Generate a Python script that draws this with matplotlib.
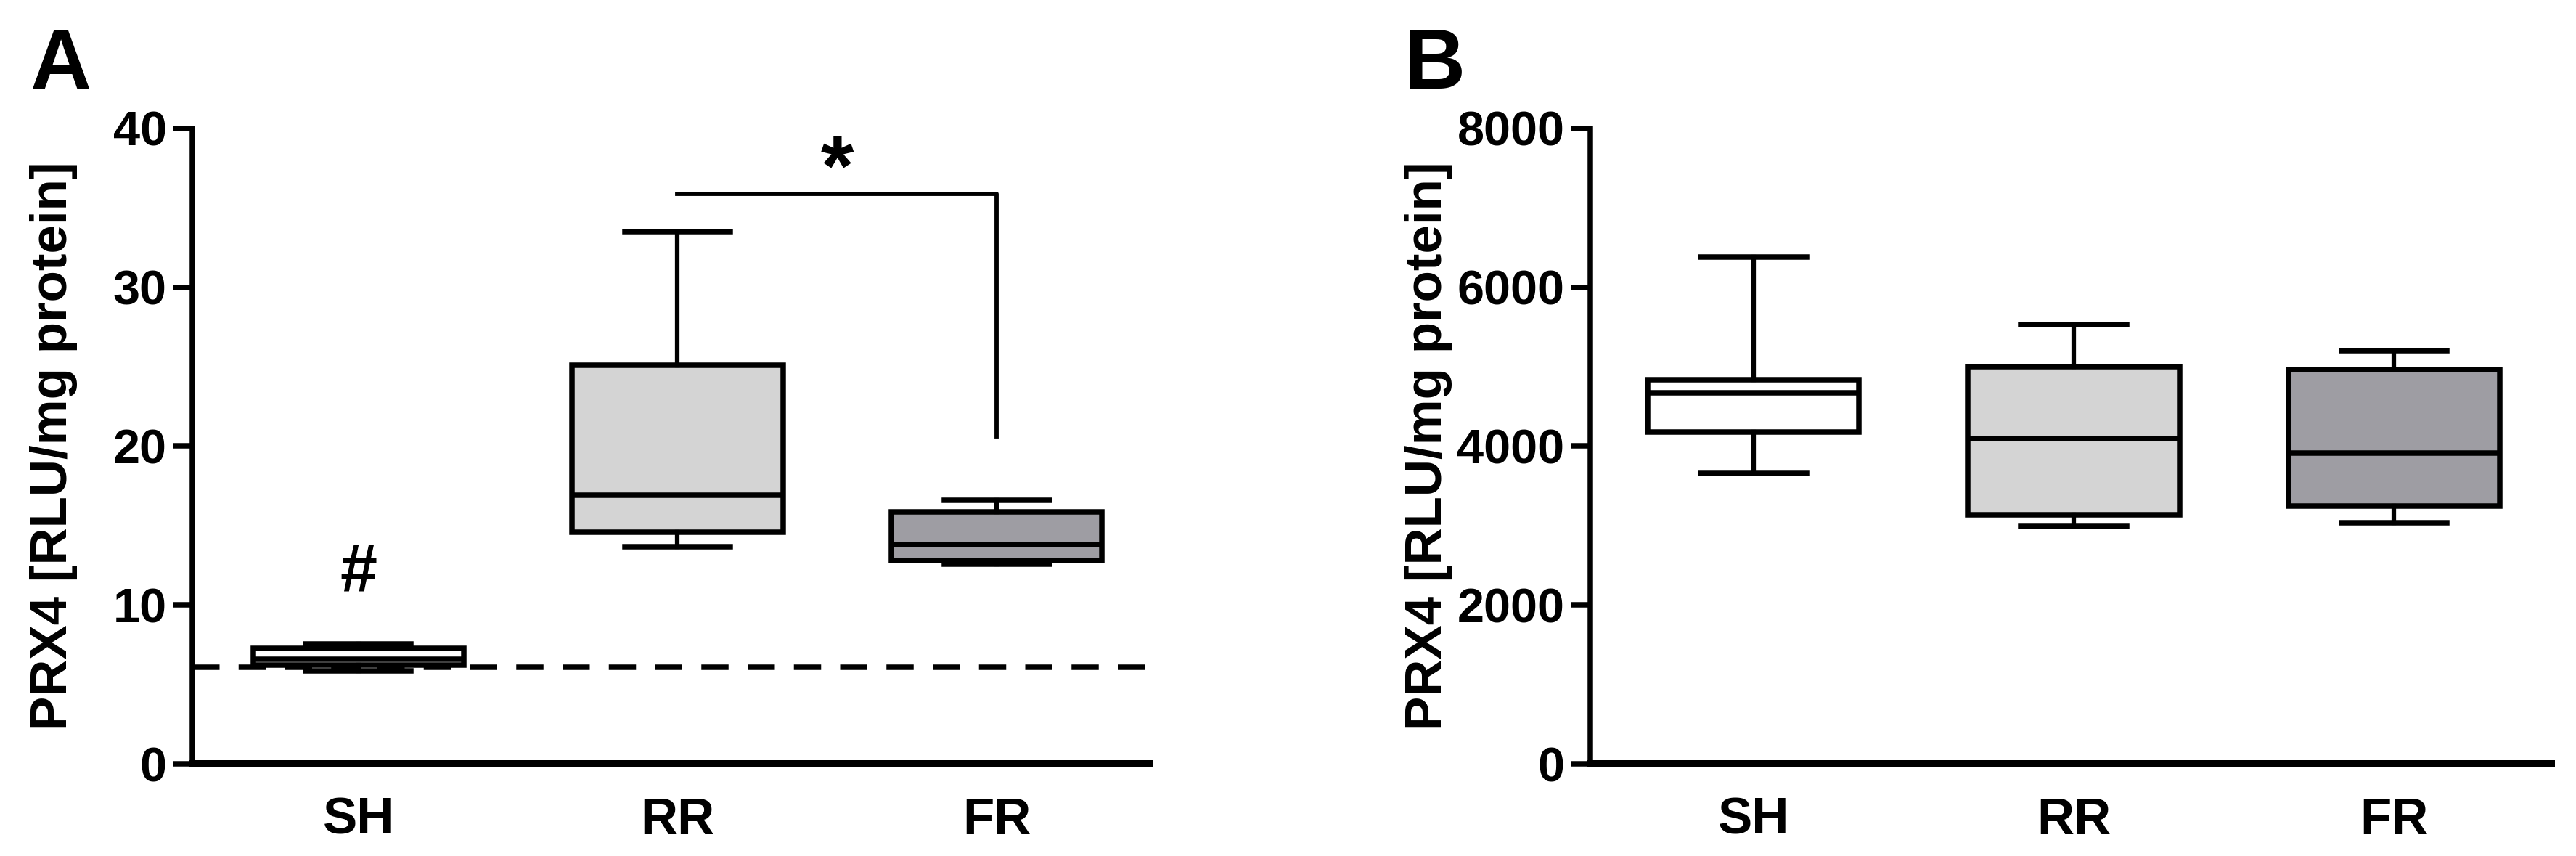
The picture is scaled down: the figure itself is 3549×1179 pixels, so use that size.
import numpy as np
import matplotlib
matplotlib.use("Agg")
import matplotlib.pyplot as plt

plt.rcParams['font.family'] = ['Liberation Sans', 'DejaVu Sans']
plt.rcParams['font.weight'] = 'bold'
plt.rcParams['axes.labelweight'] = 'bold'

groups = ['SH', 'RR', 'FR']
box_colors = ['white', '#d4d4d4', '#9e9da3']

# panel A, PRX4 [RLU/mg protein]
a_whislo = [5.85, 13.65, 12.55]
a_q1 = [6.2, 14.6, 12.8]
a_med = [6.6, 16.9, 13.8]
a_q3 = [7.25, 25.1, 15.85]
a_whishi = [7.55, 33.5, 16.6]
a_baseline = 6.1
a_bracket_y = 35.9
a_bracket_drop = 20.6

# panel B
b_whislo = [3660, 2990, 3040]
b_q1 = [4180, 3140, 3250]
b_med = [4670, 4100, 3910]
b_q3 = [4840, 5000, 4960]
b_whishi = [6380, 5530, 5200]


def make_stats(lo, q1, med, q3, hi):
    return [dict(whislo=lo[i], q1=q1[i], med=med[i], q3=q3[i], whishi=hi[i], fliers=[])
            for i in range(len(groups))]


def draw_boxes(ax, stats):
    pos = np.arange(1, len(groups) + 1)
    bp = ax.bxp(stats, positions=pos, widths=0.66, capwidths=0.33, patch_artist=True,
                showfliers=False,
                boxprops=dict(linewidth=1.8, edgecolor='black'),
                medianprops=dict(color='black', linewidth=1.8),
                whiskerprops=dict(color='black', linewidth=1.5),
                capprops=dict(color='black', linewidth=1.8),
                zorder=3)
    for patch, c in zip(bp['boxes'], box_colors):
        patch.set_facecolor(c)
    ax.set_xticks(pos)
    ax.set_xticklabels(groups)


def style_axis(ax):
    ax.spines['top'].set_visible(False)
    ax.spines['right'].set_visible(False)
    ax.spines['left'].set_linewidth(1.8)
    ax.spines['bottom'].set_linewidth(2.4)
    ax.tick_params(axis='y', length=6.5, width=1.8, pad=2, labelsize=16)
    ax.tick_params(axis='x', length=0, pad=11, labelsize=17)


fig = plt.figure(figsize=(11.83, 3.93), dpi=300)
axA = fig.add_axes([0.0747, 0.1077, 0.4464 - 0.0747, 0.8499 - 0.1077])
axB = fig.add_axes([0.6173, 0.1077, 0.9903 - 0.6173, 0.8499 - 0.1077])

# A
axA.axhline(a_baseline, color='black', linewidth=1.8, dashes=(5, 3.5), zorder=1)
draw_boxes(axA, make_stats(a_whislo, a_q1, a_med, a_q3, a_whishi))
axA.plot([2, 3, 3], [a_bracket_y, a_bracket_y, a_bracket_drop], color='black', linewidth=1.4)
axA.text(2.5, 37.2, '*', ha='center', va='center', fontsize=28, fontweight='bold')
axA.text(1, 12.0, '#', ha='center', va='center', fontsize=22, fontweight='bold')
axA.set_xlim(0.48, 3.48)
axA.set_ylim(0, 40)
axA.set_yticks([0, 10, 20, 30, 40])
style_axis(axA)
axA.set_ylabel('PRX4 [RLU/mg protein]', fontsize=17)
axA.yaxis.set_label_coords(-0.12, 0.5)

# B
draw_boxes(axB, make_stats(b_whislo, b_q1, b_med, b_q3, b_whishi))
axB.set_xlim(0.49, 3.49)
axB.set_ylim(0, 8000)
axB.set_yticks([0, 2000, 4000, 6000, 8000])
style_axis(axB)
axB.set_ylabel('PRX4 [RLU/mg protein]', fontsize=17)
axB.yaxis.set_label_coords(-0.1436, 0.5)

fig.text(0.0116, 0.9686, 'A', fontsize=28, fontweight='bold', ha='left', va='top')
fig.text(0.545, 0.9686, 'B', fontsize=28, fontweight='bold', ha='left', va='top')

fig.savefig('out.png', dpi=300)
